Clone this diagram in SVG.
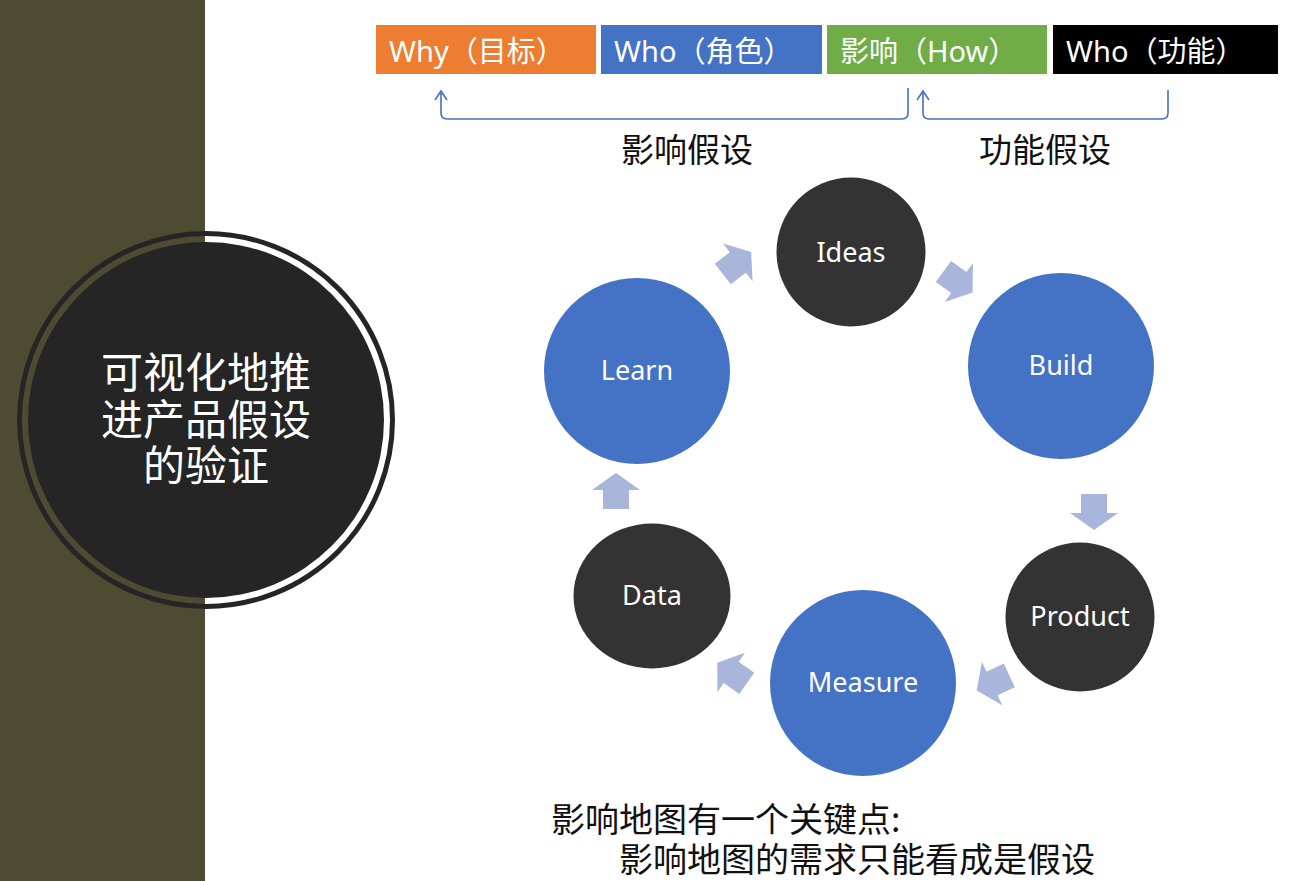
<svg xmlns="http://www.w3.org/2000/svg" width="1295" height="881" viewBox="0 0 1295 881">
<defs>
<style>
.cjk{font-family:"Noto Sans CJK SC","Noto Sans",sans-serif;}
.box{font-family:"Noto Sans","Noto Sans CJK SC",sans-serif;font-size:29px;fill:#fff;}
.lbl{font-family:"Noto Sans","Noto Sans CJK SC",sans-serif;font-size:27px;fill:#fff;text-anchor:middle;}
.dark{fill:#333333;}
.blue{fill:#4472C4;}
.brk{fill:none;stroke:#4472C4;stroke-width:1.6;}
.arr{fill:#AAB5DB;}
.blk{font-size:33px;fill:#111;}
.bot{font-size:34px;fill:#111;}
</style>
<path id="ba" d="M-18,-13 H1 V-24 L18,0 L1,24 V13 H-18 Z"/>
</defs>
<rect x="0" y="0" width="1295" height="881" fill="#fff"/>
<rect x="0" y="0" width="205" height="881" fill="#4D4C33"/>

<g id="title">
<circle cx="206" cy="420" r="186.5" fill="none" stroke="#252525" stroke-width="5"/>
<circle cx="206" cy="420" r="178" fill="#252525"/>
<text class="cjk" font-size="42" fill="#fff" text-anchor="middle"><tspan x="206" y="388">可视化地推</tspan><tspan x="206" y="435">进产品假设</tspan><tspan x="206" y="481">的验证</tspan></text>
</g>

<g id="box-why"><rect x="376" y="25" width="220" height="49" fill="#ED7D31"/><text class="box" x="389" y="62">Why（目标）</text></g>
<g id="box-who1"><rect x="601" y="25" width="221" height="49" fill="#4472C4"/><text class="box" x="614" y="62">Who（角色）</text></g>
<g id="box-how"><rect x="827" y="25" width="220" height="49" fill="#70AD47"/><text class="box" x="840" y="62">影响（How）</text></g>
<g id="box-who2"><rect x="1053" y="25" width="225" height="49" fill="#000"/><text class="box" x="1066" y="62">Who（功能）</text></g>

<g id="brackets">
<path class="brk" d="M441,91 V113 Q441,119 447,119 H902 Q908,119 908,113 V88"/>
<path class="brk" d="M435,100 L441,91 L447,100"/>
<path class="brk" d="M923,91 V113 Q923,119 929,119 H1162 Q1168,119 1168,113 V90"/>
<path class="brk" d="M917,100 L923,91 L929,100"/>
</g>
<text class="cjk blk" x="687" y="162" text-anchor="middle">影响假设</text>
<text class="cjk blk" x="1045" y="162" text-anchor="middle">功能假设</text>

<g id="connectors">
<use href="#ba" class="arr" transform="translate(737,263) rotate(-38)"/>
<use href="#ba" class="arr" transform="translate(958,282) rotate(36)"/>
<use href="#ba" class="arr" transform="translate(1094,512) rotate(90)"/>
<use href="#ba" class="arr" transform="translate(993,683) rotate(155)"/>
<use href="#ba" class="arr" transform="translate(732,673) rotate(215)"/>
<use href="#ba" class="arr" transform="translate(616,491) rotate(-90)"/>
</g>

<g id="n-ideas"><circle class="dark" cx="851" cy="252" r="74.5"/><text class="lbl" x="851" y="262">Ideas</text></g>
<g id="n-build"><circle class="blue" cx="1061" cy="366" r="93"/><text class="lbl" x="1061" y="375">Build</text></g>
<g id="n-product"><circle class="dark" cx="1080" cy="617" r="74.5"/><text class="lbl" x="1080" y="626">Product</text></g>
<g id="n-measure"><circle class="blue" cx="863" cy="683" r="93"/><text class="lbl" x="863" y="692">Measure</text></g>
<g id="n-data"><ellipse class="dark" cx="652" cy="596" rx="78.5" ry="72.5"/><text class="lbl" x="652" y="605">Data</text></g>
<g id="n-learn"><circle class="blue" cx="637" cy="371" r="93"/><text class="lbl" x="637" y="380">Learn</text></g>

<text class="cjk bot" x="551" y="832">影响地图有一个关键点:</text>
<text class="cjk bot" x="619" y="872">影响地图的需求只能看成是假设</text>
</svg>
